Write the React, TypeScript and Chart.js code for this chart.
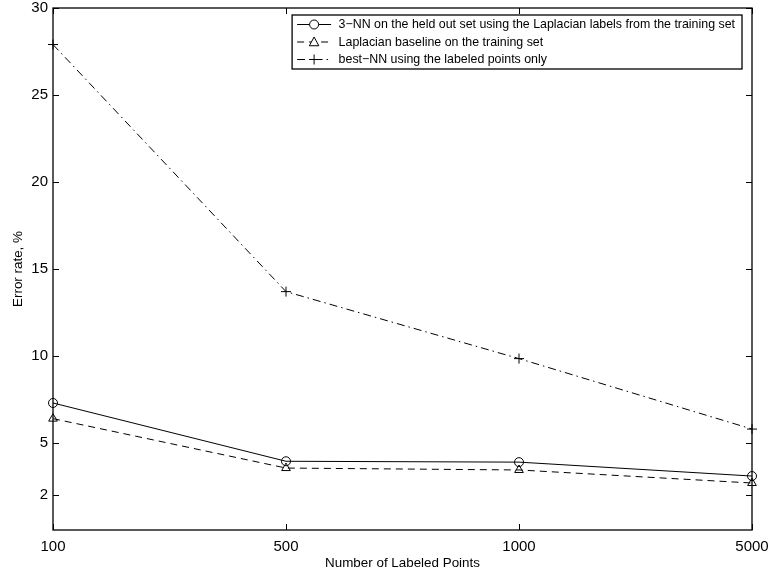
import React, { useEffect, useRef } from "react";
import { Chart, registerables } from "chart.js";

Chart.register(...registerables);

const categories = ["100", "500", "1000", "5000"];
const knnHeldOut = [7.3, 3.95, 3.9, 3.1];
const laplacianBaseline = [6.4, 3.56, 3.45, 2.7];
const bestNN = [27.9, 13.7, 9.85, 5.8];
const yTicks = [2, 5, 10, 15, 20, 25, 30];

const seriesLabels = [
  "3\u2212NN on the held out set using the Laplacian labels from the training set",
  "Laplacian baseline on the training set",
  "best\u2212NN using the labeled points only",
];

const FONT = "'Liberation Sans', Arial, Helvetica, sans-serif";

const frameAndTicks = {
  id: "frameAndTicks",
  afterDatasetsDraw(chart: any) {
    const { ctx, chartArea, scales } = chart;
    const { left, right, top, bottom } = chartArea;
    ctx.save();
    ctx.strokeStyle = "#000";
    ctx.lineWidth = 1;
    ctx.setLineDash([]);
    const L = 6;
    yTicks.forEach((v) => {
      const y = Math.round(scales.y.getPixelForValue(v)) + 0.5;
      ctx.beginPath();
      ctx.moveTo(left, y);
      ctx.lineTo(left + L, y);
      ctx.moveTo(right, y);
      ctx.lineTo(right - L, y);
      ctx.stroke();
    });
    categories.forEach((_, i) => {
      const x = Math.round(scales.x.getPixelForValue(i)) + 0.5;
      ctx.beginPath();
      ctx.moveTo(x, bottom);
      ctx.lineTo(x, bottom - L);
      ctx.moveTo(x, top);
      ctx.lineTo(x, top + L);
      ctx.stroke();
    });
    ctx.lineWidth = 1.3;
    ctx.strokeRect(left, top, right - left, bottom - top);
    ctx.restore();
  },
  afterDraw(chart: any) {
    const { ctx, chartArea } = chart;
    const datasets = chart.data.datasets;
    ctx.save();
    ctx.font = `12.4px ${FONT}`;
    let maxW = 0;
    datasets.forEach((d: any) => {
      maxW = Math.max(maxW, ctx.measureText(d.label).width);
    });
    const sampleW = 34;
    const padL = 5;
    const gap = 7.5;
    const padR = 7;
    const rowH = 17.5;
    const boxW = padL + sampleW + gap + maxW + padR;
    const boxH = rowH * datasets.length + 1.5;
    const boxRight = chartArea.right - 10;
    const boxLeft = boxRight - boxW;
    const boxTop = chartArea.top + 7;
    ctx.fillStyle = "#fff";
    ctx.fillRect(boxLeft, boxTop, boxW, boxH);
    ctx.strokeStyle = "#000";
    ctx.lineWidth = 1.3;
    ctx.setLineDash([]);
    ctx.strokeRect(boxLeft, boxTop, boxW, boxH);
    datasets.forEach((d: any, i: number) => {
      const cy = boxTop + 9.5 + i * rowH;
      const x0 = boxLeft + padL;
      const x1 = x0 + sampleW;
      ctx.strokeStyle = "#000";
      ctx.lineWidth = 1;
      ctx.setLineDash(d.borderDash || []);
      ctx.beginPath();
      ctx.moveTo(x0, cy);
      ctx.lineTo(x1, cy);
      ctx.stroke();
      ctx.setLineDash([]);
      const cx = (x0 + x1) / 2;
      const r = d.pointRadius;
      ctx.beginPath();
      if (d.pointStyle === "circle") {
        ctx.fillStyle = "#fff";
        ctx.arc(cx, cy, r, 0, Math.PI * 2);
        ctx.fill();
        ctx.stroke();
      } else if (d.pointStyle === "triangle") {
        ctx.fillStyle = "#fff";
        ctx.moveTo(cx, cy - r);
        ctx.lineTo(cx + r * 0.95, cy + r * 0.75);
        ctx.lineTo(cx - r * 0.95, cy + r * 0.75);
        ctx.closePath();
        ctx.fill();
        ctx.stroke();
      } else {
        ctx.moveTo(cx - r, cy);
        ctx.lineTo(cx + r, cy);
        ctx.moveTo(cx, cy - r);
        ctx.lineTo(cx, cy + r);
        ctx.stroke();
      }
      ctx.fillStyle = "#000";
      ctx.textBaseline = "middle";
      ctx.textAlign = "left";
      ctx.fillText(d.label, x1 + gap, cy + 0.5);
    });
    ctx.restore();
  },
};

export default function App() {
  const canvasRef = useRef<HTMLCanvasElement | null>(null);

  useEffect(() => {
    document.body.style.margin = "0";
    const canvas = canvasRef.current;
    if (!canvas) return;
    const common = {
      borderColor: "#000",
      backgroundColor: "#fff",
      pointBorderColor: "#000",
      pointBackgroundColor: "rgba(255,255,255,0)",
      borderWidth: 1,
      pointBorderWidth: 1,
      tension: 0,
      fill: false,
    };
    const chart = new Chart(canvas, {
      type: "line",
      data: {
        labels: categories,
        datasets: [
          {
            ...common,
            label: seriesLabels[0],
            data: knnHeldOut,
            pointStyle: "circle",
            pointRadius: 4.5,
            borderDash: [],
          },
          {
            ...common,
            label: seriesLabels[1],
            data: laplacianBaseline,
            pointStyle: "triangle",
            pointRadius: 5,
            borderDash: [7, 5],
          },
          {
            ...common,
            label: seriesLabels[2],
            data: bestNN,
            pointStyle: "cross",
            pointRadius: 5,
            borderDash: [8, 4, 1.5, 4],
          },
        ],
      },
      options: {
        animation: false,
        responsive: false,
        maintainAspectRatio: false,
        devicePixelRatio: 1,
        layout: { padding: { left: 0, right: 18, top: 8, bottom: 0 } },
        plugins: {
          legend: { display: false },
          tooltip: { enabled: false },
          title: { display: false },
        },
        scales: {
          x: {
            type: "category",
            offset: false,
            grid: { display: false, drawTicks: false },
            border: { display: false },
            ticks: {
              color: "#000",
              font: { family: FONT, size: 15 },
              padding: 8,
              maxRotation: 0,
              autoSkip: false,
            },
            title: {
              display: true,
              text: "Number of Labeled Points",
              color: "#000",
              font: { family: FONT, size: 13.4 },
              padding: { top: 0, bottom: 2 },
            },
            afterFit(scale: any) {
              scale.height = 43;
              scale.paddingLeft = 0;
              scale.paddingRight = 0;
            },
          },
          y: {
            type: "linear",
            min: 0,
            max: 30,
            grid: { display: false, drawTicks: false },
            border: { display: false },
            afterBuildTicks(scale: any) {
              scale.ticks = yTicks.map((v) => ({ value: v }));
            },
            ticks: {
              color: "#000",
              font: { family: FONT, size: 15 },
              padding: 5,
            },
            title: {
              display: true,
              text: "Error rate, %",
              color: "#000",
              font: { family: FONT, size: 13.4 },
              padding: { top: 10, bottom: 0 },
            },
            afterFit(scale: any) {
              scale.width = 53;
              scale.paddingTop = 0;
              scale.paddingBottom = 0;
            },
          },
        },
      },
      plugins: [frameAndTicks],
    } as any);
    return () => {
      chart.destroy();
    };
  }, []);

  return (
    <div style={{ width: 770, height: 573, background: "#fff" }}>
      <canvas ref={canvasRef} width={770} height={573} style={{ display: "block" }} />
    </div>
  );
}
